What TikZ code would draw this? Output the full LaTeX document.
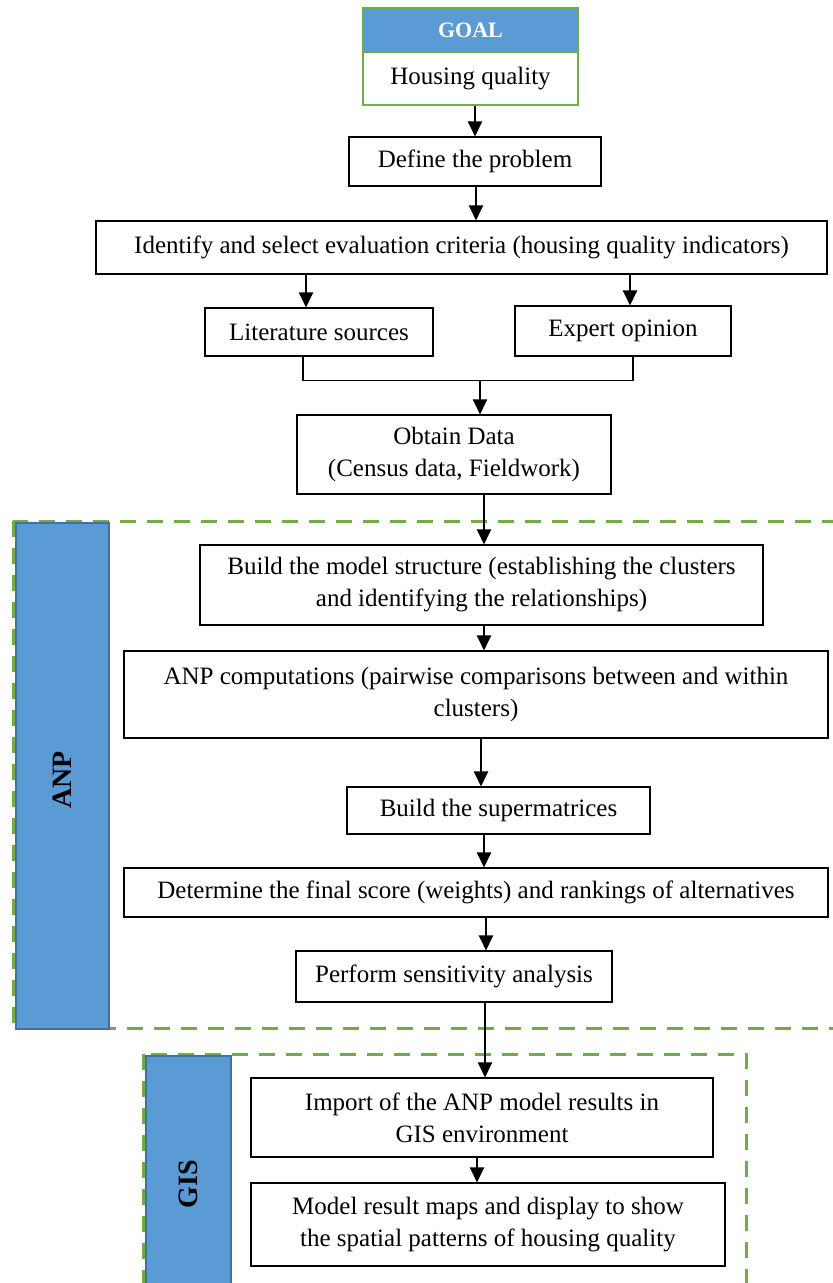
\documentclass[tikz,border=0pt]{standalone}
\usepackage{fontspec}
\setmainfont{Liberation Serif}
\usetikzlibrary{arrows.meta,calc}
\definecolor{hdrblue}{HTML}{5B9BD5}
\definecolor{edgeblue}{HTML}{41719C}
\definecolor{dashgreen}{HTML}{70AD47}
\begin{document}
\begin{tikzpicture}[x=1pt,y=-1pt,
  box/.style={draw=black, line width=1.1pt, fill=white, align=center, inner sep=0pt,
              font=\fontsize{25}{32}\selectfont},
  flow/.style={line width=2.3pt, -{Triangle[length=15pt,width=14pt]}},
  link/.style={line width=1.1pt},
  phase/.style={draw=dashgreen, line width=3pt, dash pattern=on 16pt off 11pt},
  band/.style={draw=edgeblue, line width=2.2pt, fill=hdrblue, inner sep=0pt},
  bandlabel/.style={font=\fontsize{28}{30}\selectfont\bfseries, rotate=90},
  goalframe/.style={draw=dashgreen, line width=2.5pt, inner sep=0pt, align=center}]
\clip (0,0) rectangle (833,1283);

% dashed phase frames
\draw[phase] (13,521) rectangle (850,1028);
\draw[phase] (143,1054) rectangle (746,1300);

% phase bands
\node[band, minimum width=93pt, minimum height=506pt, anchor=north west] (anp) at (15,522) {};
\node[bandlabel] (anplabel) at ([yshift=-4pt]anp.center) {ANP};
\node[band, minimum width=85pt, minimum height=240pt, anchor=north west] (gis) at (145,1055) {};
\node[bandlabel] (gislabel) at ([yshift=-8pt]gis.center) {GIS};

% goal
\node[goalframe, fill=hdrblue, minimum width=215pt, minimum height=44pt,
      font=\fontsize{22}{24}\selectfont\bfseries, text=white] (goalhead) at (470.5,30) {GOAL};
\node[goalframe, fill=white, minimum width=215pt, minimum height=53pt,
      font=\fontsize{25}{28}\selectfont] (goal) at (470.5,78.5) {Housing quality};

% process steps
\node[box, minimum width=252pt, minimum height=49pt] (define) at (475,161.5) {Define the problem};
\node[box, minimum width=731pt, minimum height=53pt] (identify) at (461.5,247.5)
  {Identify and select evaluation criteria (housing quality indicators)};
\node[box, minimum width=228pt, minimum height=48pt] (lit) at (319,332) {Literature sources};
\node[box, minimum width=216pt, minimum height=50pt] (exp) at (623,331) {Expert opinion};
\node[box, minimum width=314pt, minimum height=79pt] (obtain) at (454,454.5)
  {Obtain Data\\(Census data, Fieldwork)};
\node[box, minimum width=563pt, minimum height=80pt] (build) at (481.5,585)
  {Build the model structure (establishing the clusters\\and identifying the relationships)};
\node[box, minimum width=704pt, minimum height=87pt] (anpcomp) at (476,694.5)
  {ANP computations (pairwise comparisons between and within\\clusters)};
\node[box, minimum width=303pt, minimum height=47pt] (super) at (498.5,810.5) {Build the supermatrices};
\node[box, minimum width=704pt, minimum height=49pt] (score) at (476,892.5)
  {Determine the final score (weights) and rankings of alternatives};
\node[box, minimum width=316pt, minimum height=51pt] (sens) at (454,976.5) {Perform sensitivity analysis};
\node[box, minimum width=462pt, minimum height=79pt] (import) at (482,1117.5)
  {Import of the ANP model results in\\GIS environment};
\node[box, minimum width=474pt, minimum height=83pt] (maps) at (488,1224.5)
  {Model result maps and display to show\\the spatial patterns of housing quality};

% connectors
\draw[flow] (goal.south -| define.north) -- (define.north);
\draw[flow] ([xshift=1pt]define.south) -- ([xshift=1pt]define.south |- identify.north);
\draw[flow] ([xshift=-13pt]lit.north |- identify.south) -- ([xshift=-13pt]lit.north);
\draw[flow] ([xshift=7pt]exp.north |- identify.south) -- ([xshift=7pt]exp.north);
\coordinate (litfoot) at ([xshift=-16pt]lit.south);
\coordinate (expfoot) at ([xshift=10pt]exp.south);
\draw[link] (litfoot) -- ++(0,24) coordinate (joinL) -- (joinL -| expfoot) -- (expfoot);
\coordinate (joinmid) at ([xshift=26pt]obtain.north |- joinL);
\draw[flow] (joinmid) -- (joinmid |- obtain.north);
\draw[flow] ([xshift=30pt]obtain.south) -- ([xshift=30pt]obtain.south |- build.north);
\draw[flow] ([xshift=2.5pt]build.south) -- ([xshift=2.5pt]build.south |- anpcomp.north);
\draw[flow] ([xshift=5pt]anpcomp.south) -- ([xshift=5pt]anpcomp.south |- super.north);
\draw[flow] ([xshift=-14.5pt]super.south) -- ([xshift=-14.5pt]super.south |- score.north);
\draw[flow] ([xshift=10pt]score.south) -- ([xshift=10pt]score.south |- sens.north);
\draw[flow] ([xshift=31pt]sens.south) -- ([xshift=31pt]sens.south |- import.north);
\draw[flow] ([xshift=-5pt]import.south) -- ([xshift=-5pt]import.south |- maps.north);
\end{tikzpicture}
\end{document}
